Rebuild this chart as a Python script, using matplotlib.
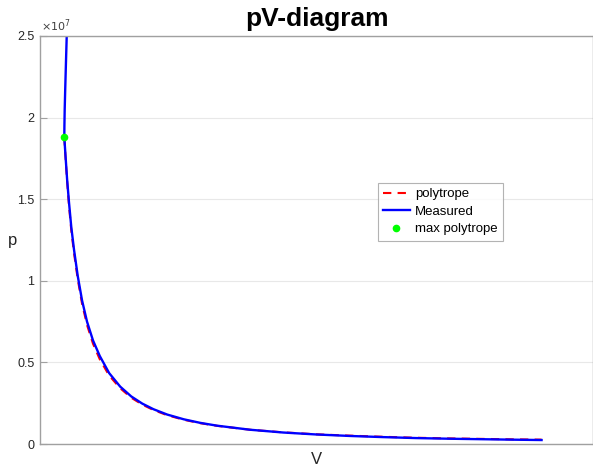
#!/usr/bin/env python3
"""
pV-diagram: measured cycle against the fitted polytrope.
"""
import matplotlib
matplotlib.use('Agg')
import matplotlib.pyplot as plt

plt.rcParams['font.family'] = ['Liberation Sans', 'DejaVu Sans']

# volume (arbitrary units, axis has no tick labels) and pressure in Pa
V_poly = [0.0439, 0.0460, 0.0490, 0.0524, 0.0565, 0.0615, 0.0682, 0.076,
          0.085, 0.0958, 0.108, 0.125, 0.145, 0.165, 0.185, 0.205, 0.23,
          0.26, 0.29, 0.32, 0.38, 0.44, 0.50, 0.56, 0.62, 0.68, 0.74,
          0.80, 0.86, 0.907]
p_poly = [1.88e7, 1.76e7, 1.61e7, 1.46e7, 1.31e7, 1.17e7, 1.01e7, 8.6e6,
          7.3e6, 6.15e6, 5.2e6, 4.2e6, 3.42e6, 2.84e6, 2.42e6, 2.09e6, 1.77e6,
          1.49e6, 1.28e6, 1.12e6, 0.88e6, 0.72e6, 0.60e6, 0.52e6, 0.45e6,
          0.39e6, 0.35e6, 0.32e6, 0.29e6, 0.275e6]

V_meas = [0.0487, 0.0470, 0.0456, 0.0446, 0.0441, 0.0439, 0.0460, 0.0490,
          0.0524, 0.0565, 0.0615, 0.0682, 0.076, 0.085, 0.0958, 0.108, 0.125,
          0.145, 0.165, 0.185, 0.205, 0.23, 0.26, 0.29, 0.32, 0.38, 0.44,
          0.50, 0.56, 0.62, 0.68, 0.74, 0.80, 0.86, 0.907]
p_meas = [2.55e7, 2.35e7, 2.18e7, 2.05e7, 1.95e7, 1.88e7, 1.77e7, 1.62e7,
          1.48e7, 1.33e7, 1.19e7, 1.03e7, 8.8e6, 7.5e6, 6.35e6, 5.4e6, 4.35e6,
          3.52e6, 2.92e6, 2.48e6, 2.14e6, 1.81e6, 1.52e6, 1.30e6, 1.13e6,
          0.88e6, 0.71e6, 0.59e6, 0.50e6, 0.43e6, 0.37e6, 0.33e6, 0.30e6,
          0.27e6, 0.25e6]

V_max = [0.0439]
p_max = [1.88e7]

yticks = [0, 0.5e7, 1e7, 1.5e7, 2e7, 2.5e7]
ytick_labels = ['0', '0.5', '1', '1.5', '2', '2.5']

fig = plt.figure(figsize=(5.93, 4.67), dpi=100)
ax = fig.add_axes([0.0675, 0.049, 0.9325, 0.874])

ax.plot(V_poly, p_poly, '--', color='red', lw=1.5, dashes=(4, 3), label='polytrope')
ax.plot(V_meas, p_meas, '-', color='blue', lw=1.7, label='Measured')
ax.plot(V_max, p_max, 'o', color='#00ff00', ms=4.5, ls='none', label='max polytrope')

ax.set_xlim(0, 1)
ax.set_ylim(0, 2.5e7)
ax.set_xticks([])
ax.set_yticks(yticks)
ax.set_yticklabels(ytick_labels)
ax.tick_params(axis='y', direction='in', length=5, color='#a0a0a0',
               labelsize=9, labelcolor='#262626', pad=4)
ax.yaxis.grid(True, color='#e8e8e8', lw=0.8)
ax.set_axisbelow(True)
for s in ax.spines.values():
    s.set_color('#a0a0a0')
    s.set_linewidth(1.0)

ax.text(0.002, 1.006, r'$\times10^{7}$', transform=ax.transAxes,
        fontsize=8, color='#404040', ha='left', va='bottom')

ax.set_title('pV-diagram', fontsize=19, fontweight='bold', pad=7)
ax.set_xlabel('V', fontsize=12, color='#262626', labelpad=6)
ax.set_ylabel('p', fontsize=12, color='#262626', rotation=0, va='center', ha='center')
ax.yaxis.set_label_coords(-0.05, 0.5)

leg = ax.legend(loc='upper left', bbox_to_anchor=(0.611, 0.64), fontsize=9.5,
                frameon=True, fancybox=False, edgecolor='#a0a0a0',
                handlelength=2.0, handletextpad=0.4, borderpad=0.4,
                labelspacing=0.4, borderaxespad=0)
leg.get_frame().set_linewidth(0.8)

fig.savefig('out.png', dpi=100)
